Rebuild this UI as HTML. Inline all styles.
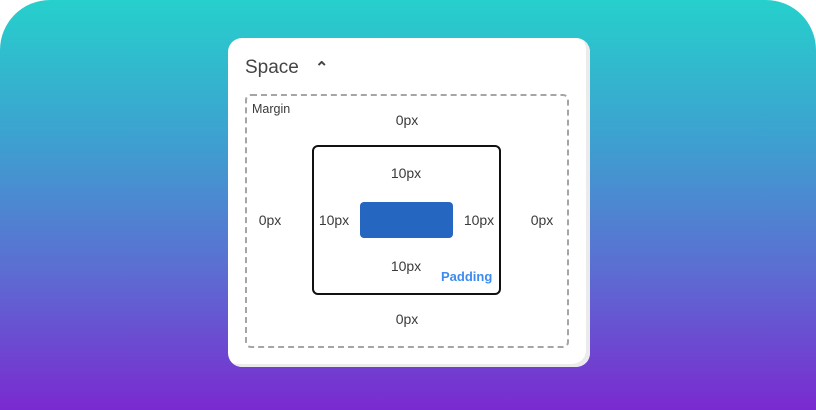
<!DOCTYPE html>
<html><head><style>
body{margin:0;width:816px;height:410px;background:#fff;overflow:hidden;font-family:"Liberation Sans",sans-serif;}
.bg{position:absolute;left:0;top:0;width:816px;height:410px;border-radius:50px 50px 0 0;background:linear-gradient(#26d0cc 0%,#3e9fd0 35%,#5b6fd2 65%,#7a2ad0 100%);}
.card{position:absolute;left:228px;top:38px;width:362px;height:329px;background:#fff;border-radius:14px;box-shadow:inset -4px -3px 0 #ebebeb;}
.t{position:absolute;font-size:14px;color:#3a3a3a;white-space:nowrap;}
.c{transform:translateX(-50%);}
</style></head><body>
<div class="bg"></div>
<div class="card"></div>
<div class="t" style="left:245px;top:57px;font-size:19px;color:#444;">Space</div>
<div class="t" style="left:315px;top:58px;font-size:16px;color:#444;font-weight:bold;">&#8963;</div>
<div style="position:absolute;left:245px;top:94px;width:320px;height:250px;border:2px dashed #a5a5a5;border-radius:6px;"></div>
<div class="t" style="left:252px;top:102px;font-size:12.5px;">Margin</div>
<div class="t c" style="left:407px;top:112px;">0px</div>
<div class="t c" style="left:407px;top:311px;">0px</div>
<div class="t c" style="left:270px;top:212px;">0px</div>
<div class="t c" style="left:542px;top:212px;">0px</div>
<div style="position:absolute;left:312px;top:145px;width:185px;height:146px;border:2px solid #111;border-radius:6px;"></div>
<div class="t c" style="left:406px;top:165px;">10px</div>
<div class="t c" style="left:406px;top:258px;">10px</div>
<div class="t c" style="left:334px;top:212px;">10px</div>
<div class="t c" style="left:479px;top:212px;">10px</div>
<div class="t" style="left:441px;top:269px;color:#3d8bf0;font-weight:bold;font-size:13px;">Padding</div>
<div style="position:absolute;left:360px;top:202px;width:93px;height:36px;background:#2566c0;border-radius:4px;"></div>
</body></html>
